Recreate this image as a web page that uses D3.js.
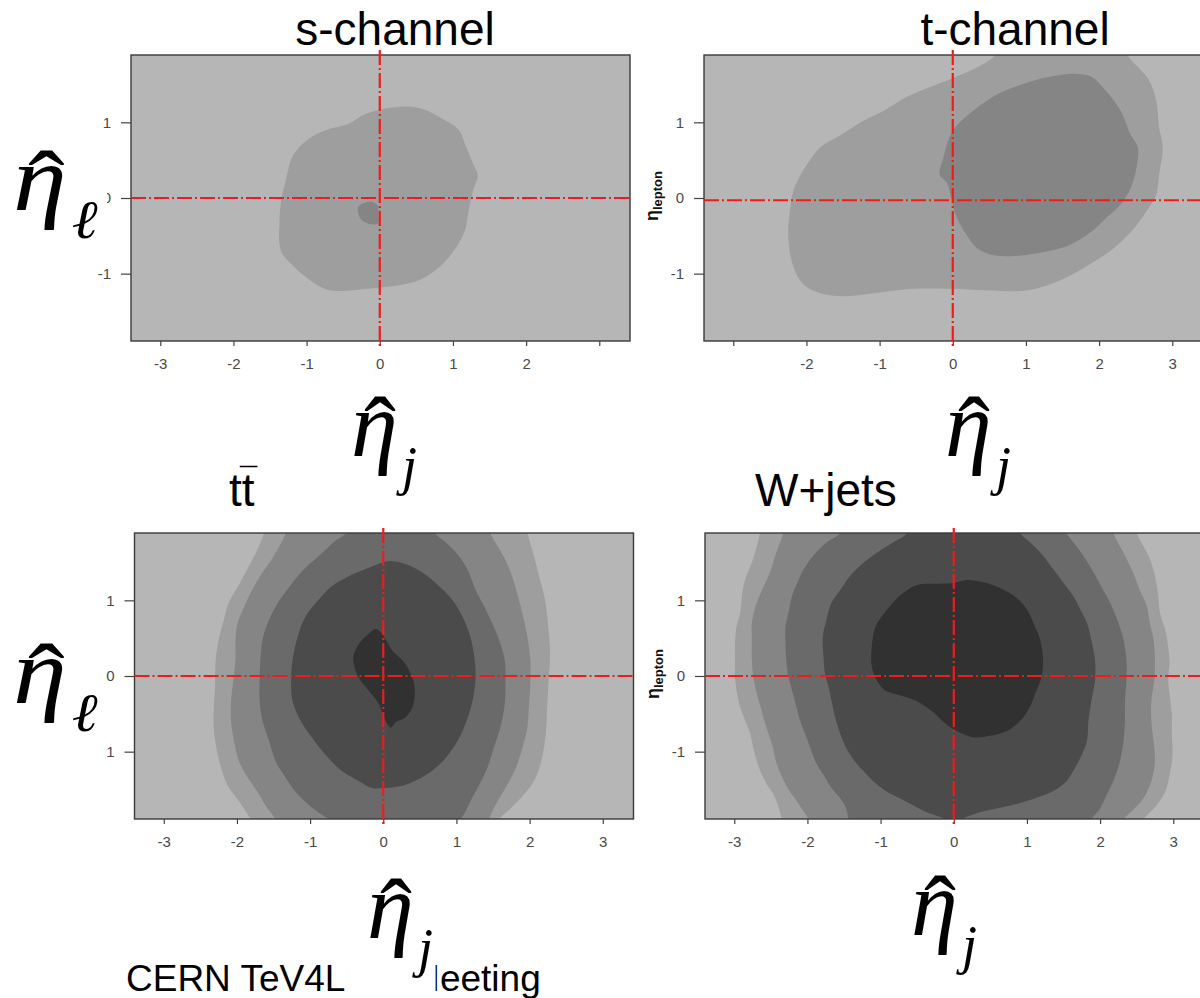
<!DOCTYPE html>
<html>
<head>
<meta charset="utf-8">
<script src="https://cdnjs.cloudflare.com/ajax/libs/d3/7.8.5/d3.min.js"></script>
<style>
  body { margin: 0; background: #fff; }
  svg { display: block; }
</style>
</head>
<body>
<svg id="chart" width="1200" height="998"></svg>
<script>
        // Axis ticks and ranges (eta_jet horizontal, eta_lepton vertical)
        const xTicks = [-3, -2, -1, 0, 1, 2, 3];
        const yTicks = [-1, 0, 1];
        const xDomain = [-3.4, 3.42];
        const yDomain = [-1.89, 1.89];

        // Contour fill greys, outermost (background) to innermost
        const levelGrays = ["#b6b6b6", "#9e9e9e", "#858585", "#6a6a6a", "#4b4b4b", "#313131"];

        const titles = ["s-channel", "t-channel", "tt", "W+jets"];

        // Dashed cross-hair position per panel
        const crossX = [0, 0, 0, 0];
        const crossY = [0, -0.03, 0, 0];

        // ---- s-channel contours ----
        const sLevel2 = [[-0.17,1.12],[0.33,1.21],[0.61,1.17],[0.83,1.06],[1.08,0.90],[1.17,0.70],[1.28,0.44],
            [1.34,0.30],[1.28,0.12],[1.22,-0.14],[1.17,-0.41],[1.06,-0.63],[0.83,-0.90],[0.55,-1.08],[0.22,-1.16],
            [-0.06,-1.19],[-0.28,-1.21],[-0.51,-1.23],[-0.73,-1.21],[-0.96,-1.08],[-1.18,-0.90],[-1.35,-0.70],
            [-1.37,-0.32],[-1.35,-0.05],[-1.29,0.21],[-1.18,0.57],[-0.96,0.79],[-0.73,0.90],[-0.45,0.97]];
        const sLevel3 = [[-0.28,-0.10],[-0.12,-0.05],[-0.03,-0.10],[-0.02,-0.23],[-0.03,-0.34],[-0.15,-0.34],
            [-0.26,-0.28],[-0.30,-0.16]];

        // ---- t-channel contours ----
        const tLevel2 = [[-2.10,-1.07],[-1.96,-1.20],[-1.66,-1.29],[-1.32,-1.29],[-0.93,-1.24],[-0.54,-1.20],
            [0.00,-1.20],[0.43,-1.22],[1.02,-1.22],[1.51,-1.07],[1.85,-0.89],[2.19,-0.67],[2.48,-0.40],[2.68,-0.13],
            [2.78,0.04],[2.82,0.31],[2.87,0.67],[2.82,0.93],[2.78,1.29],[2.68,1.56],[2.53,1.73],[2.39,1.89],
            [2.30,2.20],[0.70,2.20],[0.58,1.89],[0.34,1.73],[0.04,1.60],[-0.30,1.47],[-0.64,1.33],[-0.93,1.16],
            [-1.22,1.02],[-1.52,0.84],[-1.81,0.67],[-1.96,0.49],[-2.10,0.27],[-2.18,0.09],[-2.22,-0.13],
            [-2.25,-0.49],[-2.20,-0.84]];
        const tLevel3 = [[0.00,0.89],[0.29,1.16],[0.63,1.38],[0.97,1.51],[1.31,1.60],[1.70,1.64],[1.90,1.60],
            [2.09,1.42],[2.29,1.16],[2.43,0.84],[2.53,0.67],[2.51,0.40],[2.43,0.13],[2.29,-0.09],[2.09,-0.27],
            [1.90,-0.44],[1.60,-0.62],[1.26,-0.71],[0.92,-0.76],[0.58,-0.76],[0.34,-0.67],[0.19,-0.49],
            [0.04,-0.22],[-0.03,0.04],[-0.08,0.20],[-0.18,0.31],[-0.13,0.53]];

        // ---- ttbar contours ----
        const ttLevel2 = [[-1.55,2.3],
            [-1.63,1.89],[-1.74,1.63],[-1.86,1.41],[-1.97,1.21],[-2.11,0.97],[-2.19,0.70],[-2.25,0.48],[-2.29,0.21],
            [-2.30,-0.15],[-2.32,-0.50],[-2.31,-0.77],[-2.24,-1.13],[-2.13,-1.44],[-1.97,-1.66],[-1.81,-1.90],
            [-1.60,-2.3],[1.40,-2.3],
            [1.58,-1.90],[1.74,-1.75],[1.92,-1.57],[2.08,-1.35],[2.17,-1.08],[2.22,-0.77],[2.24,-0.41],[2.26,-0.06],
            [2.28,0.30],[2.25,0.70],[2.21,1.01],[2.13,1.32],[2.06,1.59],[1.97,1.89],
            [1.90,2.3]];
        const ttLevel3 = [[-1.20,2.3],
            [-1.33,1.89],[-1.52,1.55],[-1.65,1.37],[-1.79,1.14],[-1.90,0.92],[-1.99,0.70],[-2.02,0.48],[-2.02,0.21],
            [-2.05,-0.06],[-2.08,-0.33],[-2.08,-0.59],[-2.04,-0.86],[-1.97,-1.13],[-1.86,-1.33],[-1.72,-1.53],
            [-1.61,-1.71],[-1.47,-1.90],
            [-1.30,-2.3],[1.30,-2.3],
            [1.44,-1.90],[1.53,-1.71],[1.67,-1.48],[1.81,-1.22],[1.90,-0.95],[1.97,-0.68],[1.99,-0.41],[2.01,-0.10],
            [2.01,0.21],[1.97,0.52],[1.91,0.79],[1.84,1.06],[1.76,1.32],[1.65,1.57],[1.46,1.89],
            [1.30,2.3]];
        const ttLevel4 = [[-0.35,2.3],
            [-0.51,1.89],[-0.65,1.79],[-0.83,1.63],[-1.01,1.48],[-1.17,1.32],[-1.33,1.12],[-1.47,0.92],[-1.58,0.70],
            [-1.65,0.48],[-1.68,0.21],[-1.69,-0.06],[-1.69,-0.33],[-1.65,-0.59],[-1.56,-0.86],[-1.47,-1.13],
            [-1.33,-1.35],[-1.20,-1.53],[-1.01,-1.71],[-0.83,-1.84],[-0.74,-1.90],
            [-0.60,-2.3],[0.95,-2.3],
            [1.06,-1.90],[1.12,-1.80],[1.21,-1.62],[1.31,-1.44],[1.42,-1.22],[1.51,-0.95],[1.60,-0.68],[1.66,-0.37],
            [1.67,-0.06],[1.66,0.21],[1.60,0.43],[1.51,0.65],[1.40,0.88],[1.26,1.14],[1.15,1.41],[1.03,1.59],
            [0.85,1.77],[0.71,1.89],
            [0.55,2.3]];
        const ttLevel5 = [[0.08,1.52],[0.30,1.48],[0.53,1.37],[0.76,1.19],[0.94,1.01],[1.08,0.79],[1.19,0.52],
            [1.25,0.21],[1.26,-0.06],[1.21,-0.37],[1.12,-0.64],[0.99,-0.90],[0.81,-1.13],[0.58,-1.31],[0.30,-1.44],
            [0.03,-1.48],[-0.15,-1.48],[-0.33,-1.39],[-0.56,-1.26],[-0.79,-1.04],[-0.97,-0.82],[-1.13,-0.59],
            [-1.24,-0.33],[-1.26,-0.06],[-1.24,0.21],[-1.17,0.52],[-1.06,0.79],[-0.88,1.01],[-0.70,1.19],
            [-0.47,1.32],[-0.20,1.43],[-0.01,1.50]];
        const ttLevel6 = [[-0.10,0.62],[0.01,0.52],[0.12,0.34],[0.26,0.21],[0.35,0.08],[0.42,-0.10],[0.43,-0.24],
            [0.40,-0.41],[0.30,-0.55],[0.17,-0.61],[0.10,-0.68],[0.01,-0.55],[-0.06,-0.37],[-0.20,-0.19],
            [-0.31,-0.06],[-0.38,0.08],[-0.41,0.25],[-0.33,0.43],[-0.22,0.54]];

        // ---- W+jets contours ----
        const wLevel2 = [[-2.60,2.3],
            [-2.65,1.89],[-2.69,1.72],[-2.76,1.50],[-2.85,1.28],[-2.89,1.10],[-2.92,0.83],[-2.97,0.65],[-2.99,0.43],
            [-2.99,0.21],[-2.99,-0.01],[-2.96,-0.24],[-2.92,-0.41],[-2.85,-0.59],[-2.78,-0.77],[-2.74,-0.95],
            [-2.69,-1.13],[-2.62,-1.31],[-2.55,-1.44],[-2.46,-1.57],[-2.39,-1.75],[-2.35,-1.90],
            [-2.30,-2.3],[2.40,-2.3],
            [2.59,-1.90],[2.77,-1.71],[2.89,-1.53],[2.95,-1.31],[2.99,-1.04],[2.98,-0.77],[2.98,-0.50],[2.95,-0.24],
            [2.93,-0.01],[2.95,0.16],[2.93,0.39],[2.89,0.61],[2.82,0.83],[2.79,1.10],[2.75,1.32],[2.68,1.55],
            [2.59,1.72],[2.50,1.89],
            [2.40,2.3]];
        const wLevel3 = [[-2.25,2.3],
            [-2.33,1.89],[-2.44,1.59],[-2.51,1.37],[-2.62,1.14],[-2.71,0.92],[-2.76,0.70],[-2.76,0.48],[-2.76,0.21],
            [-2.74,-0.01],[-2.69,-0.24],[-2.64,-0.41],[-2.59,-0.59],[-2.53,-0.77],[-2.47,-0.95],[-2.43,-1.13],
            [-2.36,-1.31],[-2.27,-1.48],[-2.17,-1.62],[-2.08,-1.75],[-1.98,-1.90],
            [-1.85,-2.3],[2.20,-2.3],
            [2.32,-1.90],[2.45,-1.77],[2.59,-1.62],[2.70,-1.39],[2.75,-1.13],[2.73,-0.86],[2.70,-0.59],[2.70,-0.33],
            [2.74,-0.06],[2.75,0.21],[2.73,0.48],[2.68,0.70],[2.64,0.92],[2.54,1.14],[2.45,1.37],[2.34,1.59],
            [2.18,1.89],
            [2.05,2.3]];
        const wLevel4 = [[-1.40,2.3],
            [-1.55,1.89],[-1.73,1.77],[-1.92,1.59],[-2.05,1.41],[-2.14,1.23],[-2.21,1.06],[-2.26,0.83],[-2.30,0.65],
            [-2.30,0.43],[-2.29,0.21],[-2.26,-0.01],[-2.21,-0.19],[-2.15,-0.41],[-2.10,-0.59],[-2.03,-0.77],
            [-1.96,-0.95],[-1.89,-1.13],[-1.78,-1.31],[-1.67,-1.48],[-1.55,-1.62],[-1.47,-1.75],[-1.44,-1.90],
            [-1.40,-2.3],[1.75,-2.3],
            [1.88,-1.90],[2.00,-1.75],[2.09,-1.57],[2.18,-1.39],[2.27,-1.13],[2.32,-0.86],[2.34,-0.59],[2.34,-0.33],
            [2.36,-0.06],[2.36,0.21],[2.32,0.48],[2.25,0.70],[2.16,0.92],[2.04,1.14],[1.91,1.37],[1.77,1.59],
            [1.63,1.77],[1.54,1.89],
            [1.40,2.3]];
        const wLevel5 = [[-0.50,2.3],
            [-0.64,1.89],[-0.82,1.77],[-1.05,1.63],[-1.23,1.50],[-1.42,1.32],[-1.55,1.14],[-1.67,0.97],[-1.74,0.74],
            [-1.79,0.52],[-1.78,0.25],[-1.76,0.03],[-1.71,-0.15],[-1.67,-0.33],[-1.62,-0.55],[-1.55,-0.77],
            [-1.47,-0.95],[-1.35,-1.13],[-1.23,-1.26],[-1.10,-1.39],[-0.91,-1.53],[-0.73,-1.62],[-0.55,-1.71],
            [-0.37,-1.80],[-0.19,-1.86],[0.00,-1.93],[0.18,-1.86],[0.36,-1.80],[0.63,-1.74],[0.91,-1.68],
            [1.13,-1.61],[1.36,-1.52],[1.54,-1.39],[1.63,-1.26],[1.73,-1.08],[1.82,-0.86],[1.84,-0.59],[1.88,-0.33],
            [1.93,-0.06],[1.93,0.21],[1.88,0.48],[1.82,0.70],[1.73,0.88],[1.63,1.06],[1.50,1.23],[1.36,1.41],
            [1.22,1.59],[1.04,1.77],[0.91,1.89],
            [0.80,2.3]];
        const wLevel6 = [[-0.69,1.10],[-0.48,1.21],[-0.28,1.22],[0.00,1.23],[0.18,1.27],[0.45,1.23],[0.68,1.14],
            [0.86,1.03],[1.00,0.88],[1.11,0.65],[1.18,0.48],[1.22,0.21],[1.20,-0.01],[1.11,-0.24],[1.04,-0.41],
            [0.91,-0.59],[0.72,-0.73],[0.50,-0.79],[0.27,-0.81],[0.09,-0.75],[-0.10,-0.64],[-0.28,-0.48],
            [-0.51,-0.33],[-0.78,-0.24],[-0.94,-0.19],[-1.05,-0.06],[-1.12,0.12],[-1.12,0.39],[-1.07,0.65],
            [-0.91,0.88]];

        const svg = d3.select("#chart");
        const plotW = 499, plotH = 286;
        const sans = "'Liberation Sans', Arial, sans-serif";
        const serif = "'Liberation Serif', 'Times New Roman', serif";

        const panels = [
            { left: 131,   top: 55,  levels: [sLevel2, sLevel3], hideX: [3] },
            { left: 704,   top: 55,  levels: [tLevel2, tLevel3], hideX: [-3] },
            { left: 134.5, top: 533, levels: [ttLevel2, ttLevel3, ttLevel4, ttLevel5, ttLevel6], hideX: [] },
            { left: 705,   top: 533, levels: [wLevel2, wLevel3, wLevel4, wLevel5, wLevel6], hideX: [] }
        ];

        panels.forEach((p, i) => {
            const x = d3.scaleLinear().domain(xDomain).range([0, plotW]);
            const y = d3.scaleLinear().domain(yDomain).range([plotH, 0]);

            const g = svg.append("g").attr("transform", `translate(${p.left},${p.top})`);
            g.append("clipPath").attr("id", "clip" + i)
                .append("rect").attr("width", plotW).attr("height", plotH);

            const plot = g.append("g").attr("clip-path", `url(#clip${i})`);
            plot.append("rect").attr("width", plotW).attr("height", plotH).attr("fill", levelGrays[0]);

            const contour = d3.line()
                .x(d => x(d[0]))
                .y(d => y(d[1]))
                .curve(d3.curveCatmullRomClosed.alpha(0.5));

            p.levels.forEach((ring, k) => {
                plot.append("path").attr("d", contour(ring)).attr("fill", levelGrays[k + 1]);
            });

            // frame
            g.append("rect").attr("width", plotW).attr("height", plotH)
                .attr("fill", "none").attr("stroke", "#3a3a3a").attr("stroke-width", 1.4);

            // axes
            const xAxis = g.append("g").attr("transform", `translate(0,${plotH})`)
                .call(d3.axisBottom(x).tickValues(xTicks).tickSize(5).tickPadding(12)
                    .tickFormat(d => p.hideX.includes(d) ? "" : String(d)));
            const yAxis = g.append("g")
                .call(d3.axisLeft(y).tickValues(yTicks).tickSize(10).tickPadding(10)
                    .tickFormat(d => String(d)));
            [xAxis, yAxis].forEach(a => {
                a.select(".domain").remove();
                a.selectAll("line").attr("stroke", "#444").attr("stroke-width", 1.2);
                a.selectAll("text").attr("fill", "#4a4a4a").attr("font-family", sans).attr("font-size", 15);
            });

            // red dash-dot cross-hair
            const red = g.append("g").attr("stroke", "#ee1c1c").attr("stroke-width", 2.2)
                .attr("stroke-dasharray", "15,3,2,3").attr("fill", "none");
            red.append("line").attr("x1", 0).attr("x2", plotW)
                .attr("y1", y(crossY[i])).attr("y2", y(crossY[i]));
            red.append("line").attr("x1", x(crossX[i])).attr("x2", x(crossX[i]))
                .attr("y1", -5).attr("y2", plotH + 5);
        });

        // panel titles
        function title(txt, xPos, base, anchor, size) {
            return svg.append("text").attr("x", xPos).attr("y", base).attr("text-anchor", anchor)
                .attr("font-family", sans).attr("font-size", size || 46).attr("fill", "#000").text(txt);
        }
        title(titles[0], 395, 45, "middle");
        title(titles[1], 1015, 45, "middle");
        title(titles[2], 229, 506, "start");
        title("\u00AF", 240, 490, "start", 31);
        title(titles[3], 755, 506, "start");

        // rotated eta_lepton labels on the right-hand panels
        [[658, 196], [659, 674]].forEach(([cx, cy]) => {
            const t = svg.append("text").attr("transform", `translate(${cx},${cy}) rotate(-90)`)
                .attr("text-anchor", "middle").attr("font-family", sans).attr("font-weight", "bold").attr("fill", "#111");
            t.append("tspan").attr("font-size", 18).text("\u03B7");
            t.append("tspan").attr("font-size", 13).attr("dy", 4).text("lepton");
        });

        // footer text, partly hidden behind an axis label
        const foot = svg.append("text").attr("x", 126).attr("y", 991)
            .attr("font-family", sans).attr("font-size", 37).attr("fill", "#000")
            .text("CERN TeV4LHC Meeting");
        const footNode = foot.node();
        const hideFrom = 126 + footNode.getSubStringLength(0, 10) + 2;
        const hideTo = 126 + footNode.getSubStringLength(0, 13) + 26.5;

        // big math axis labels: eta-hat with subscript, each on a white patch
        function etaHat(xPos, base, sub, sx, patch) {
            svg.append("rect").attr("x", patch[0]).attr("y", patch[1])
                .attr("width", patch[2] - patch[0]).attr("height", patch[3] - patch[1]).attr("fill", "#fff");
            const g = svg.append("g").attr("transform", `translate(${xPos},${base}) scale(${sx},1)`)
                .attr("font-family", serif).attr("font-style", "italic").attr("fill", "#000");
            g.append("text").attr("x", 0).attr("y", 0).attr("font-size", 94).text("\u03B7");
            g.append("text").attr("x", 29).attr("y", 7).attr("text-anchor", "middle")
                .attr("font-style", "normal").attr("font-size", 96).text("\u02C6");
            g.append("text").attr("x", 51).attr("y", 28).attr("font-size", 54).text(sub);
        }
        etaHat(13, 210, "\u2113", 1.15, [0, 135, 107, 245]);
        etaHat(13, 703, "\u2113", 1.15, [0, 630, 106, 770]);
        etaHat(351, 456, "j", 1.0, [340, 385, 440, 500]);
        etaHat(945, 456, "j", 1.0, [935, 385, 1030, 500]);
        etaHat(367, 938, "j", 1.0, [hideFrom, 868, hideTo, 998]);
        etaHat(911, 935, "j", 1.0, [900, 868, 1000, 990]);
</script>
</body>
</html>
